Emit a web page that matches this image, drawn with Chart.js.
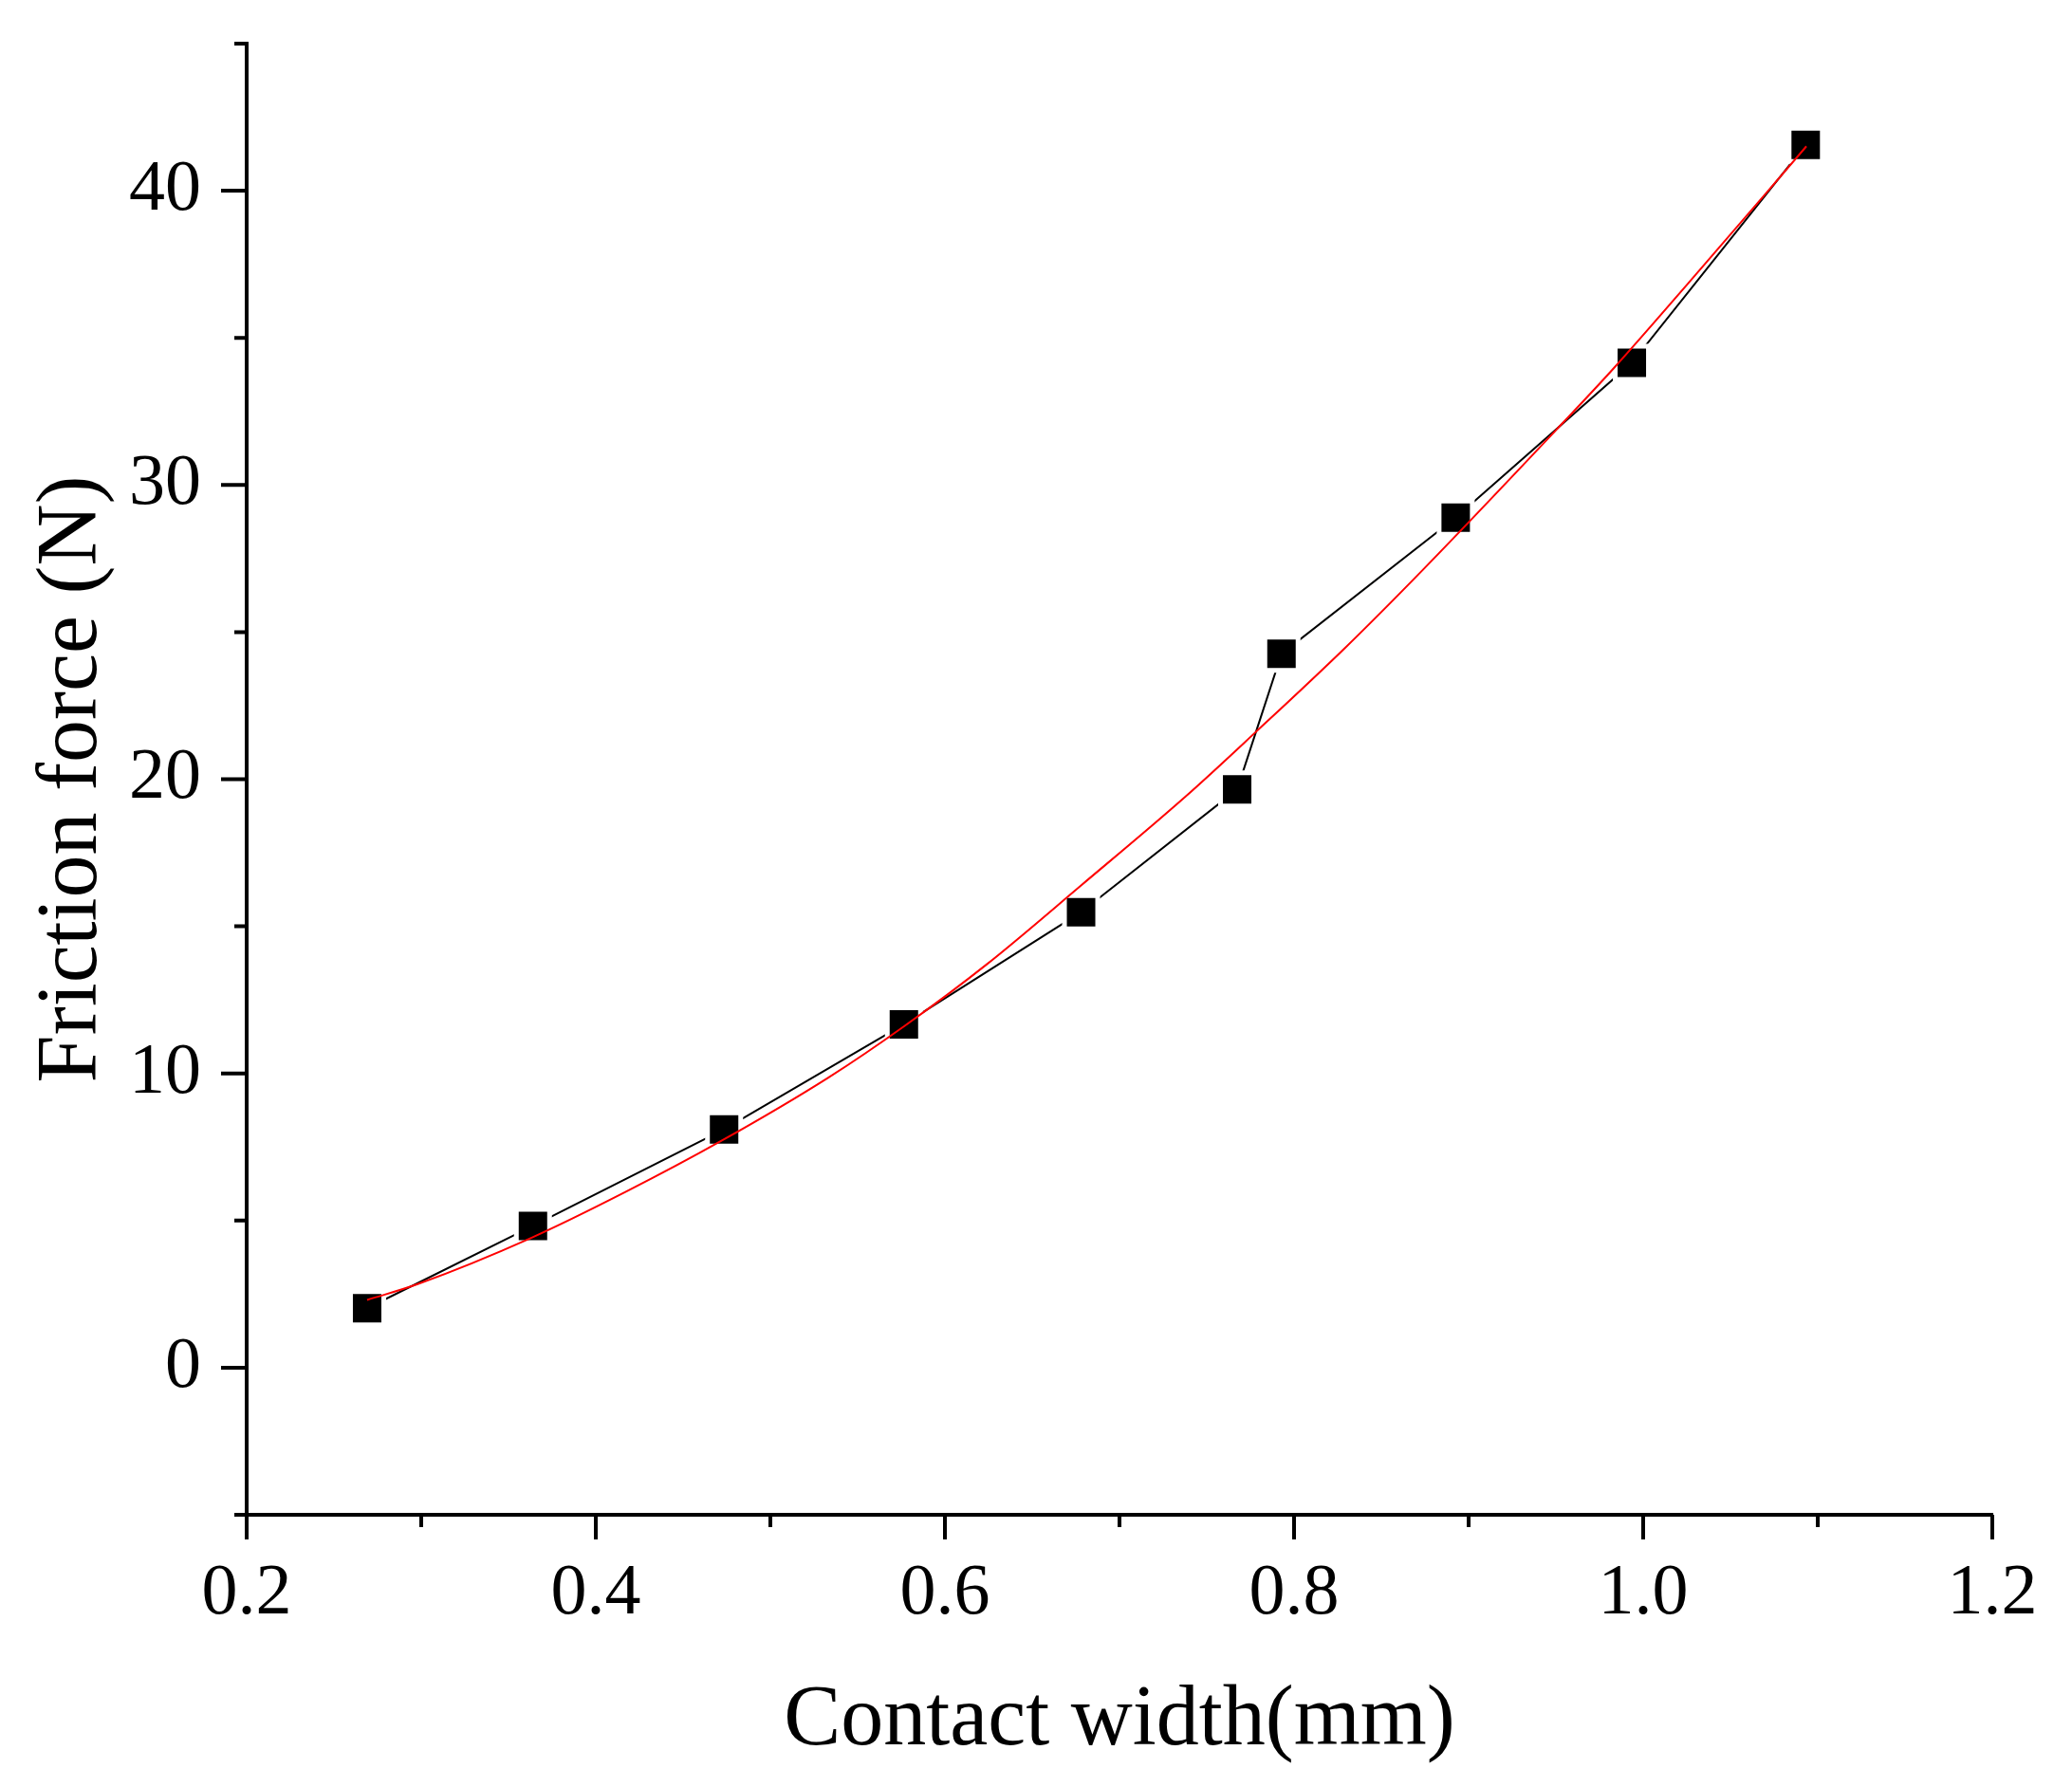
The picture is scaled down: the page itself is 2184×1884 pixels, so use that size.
<!DOCTYPE html>
<html>
<head>
<meta charset="utf-8">
<script src="https://cdn.jsdelivr.net/npm/chart.js@4/dist/chart.umd.min.js"></script>
<style>
  html, body { margin: 0; padding: 0; background: #fff; }
  #wrap { width: 2184px; height: 1884px; }
</style>
</head>
<body>
<div id="wrap"><canvas id="chart" width="2184" height="1884"></canvas></div>
<script>
// measured points (contact width in mm, friction force in N)
const contactWidth = [0.269, 0.364, 0.4735, 0.5765, 0.678, 0.7674, 0.7928, 0.8926, 0.9935, 1.0931];
const frictionForce = [2.02, 4.82, 8.10, 11.67, 15.48, 19.65, 24.26, 28.89, 34.15, 41.56];

// red fitted curve
const fitX = [0.269, 0.298, 0.363, 0.417, 0.472, 0.533, 0.577, 0.624, 0.678, 0.738, 0.778, 0.829, 0.874, 0.950, 0.983, 1.025, 1.0935];
const fitY = [2.30, 2.84, 4.41, 5.97, 7.71, 9.85, 11.62, 13.71, 16.39, 19.42, 21.60, 24.45, 27.13, 31.86, 33.96, 36.80, 41.51];

// axis ticks
const xMajorTicks = [0.2, 0.4, 0.6, 0.8, 1.0, 1.2];
const xTickLabels = ["0.2", "0.4", "0.6", "0.8", "1.0", "1.2"];
const xMinorTicks = [0.3, 0.5, 0.7, 0.9, 1.1];
const yMajorTicks = [0, 10, 20, 30, 40];
const yTickLabels = ["0", "10", "20", "30", "40"];
const yMinorTicks = [-5, 5, 15, 25, 35, 45];

const serif = "'Times New Roman', 'Liberation Serif', serif";

// Origin-style outward ticks, long for major and short for minor
const tickMarks = {
  id: "tickMarks",
  afterDraw(chart) {
    const ctx = chart.ctx;
    const xs = chart.scales.x;
    const ys = chart.scales.y;
    const area = chart.chartArea;
    ctx.save();
    ctx.strokeStyle = "#000";
    ctx.lineWidth = 4;
    ctx.beginPath();
    xMajorTicks.forEach((v) => {
      const px = xs.getPixelForValue(v);
      ctx.moveTo(px, area.bottom);
      ctx.lineTo(px, area.bottom + 26);
    });
    xMinorTicks.forEach((v) => {
      const px = xs.getPixelForValue(v);
      ctx.moveTo(px, area.bottom);
      ctx.lineTo(px, area.bottom + 13);
    });
    yMajorTicks.forEach((v) => {
      const py = ys.getPixelForValue(v);
      ctx.moveTo(area.left, py);
      ctx.lineTo(area.left - 27, py);
    });
    yMinorTicks.forEach((v) => {
      const py = ys.getPixelForValue(v);
      ctx.moveTo(area.left, py);
      ctx.lineTo(area.left - 13, py);
    });
    ctx.stroke();
    ctx.restore();
  },
};

new Chart(document.getElementById("chart"), {
  type: "line",
  data: {
    datasets: [
      {
        label: "Fit",
        data: fitX.map((x, i) => ({ x: x, y: fitY[i] })),
        borderColor: "#ff0000",
        borderWidth: 2,
        pointRadius: 0,
        cubicInterpolationMode: "monotone",
        fill: false,
        order: 0,
      },
      {
        label: "Friction force",
        data: contactWidth.map((x, i) => ({ x: x, y: frictionForce[i] })),
        borderColor: "#000",
        borderWidth: 2,
        pointStyle: "rect",
        pointRadius: 24.75,
        pointBackgroundColor: "#000",
        pointBorderColor: "#fff",
        pointBorderWidth: 5,
        tension: 0,
        fill: false,
        order: 1,
      },
    ],
  },
  options: {
    responsive: false,
    devicePixelRatio: 1,
    animation: false,
    events: [],
    layout: { padding: { left: 0, top: 46, right: 84, bottom: 0 } },
    plugins: {
      legend: { display: false },
      tooltip: { enabled: false },
    },
    scales: {
      x: {
        type: "linear",
        min: 0.2,
        max: 1.2,
        afterBuildTicks: (s) => {
          s.ticks = xMajorTicks.map((v) => ({ value: v }));
        },
        afterFit: (s) => {
          s.height = 287;
          s.paddingLeft = 0;
          s.paddingRight = 0;
        },
        grid: { display: false, drawTicks: false },
        border: { display: true, color: "#000", width: 4 },
        ticks: {
          color: "#000",
          padding: 38,
          autoSkip: false,
          maxRotation: 0,
          font: { family: serif, size: 76 },
          callback: (v, i) => xTickLabels[i],
        },
        title: {
          display: true,
          text: "Contact width(mm)",
          color: "#000",
          font: { family: serif, size: 90 },
          padding: { top: 0, bottom: 15 },
        },
      },
      y: {
        type: "linear",
        min: -5,
        max: 45,
        afterBuildTicks: (s) => {
          s.ticks = yMajorTicks.map((v) => ({ value: v }));
        },
        afterFit: (s) => {
          s.width = 260;
          s.paddingTop = 0;
          s.paddingBottom = 0;
        },
        grid: { display: false, drawTicks: false },
        border: { display: true, color: "#000", width: 4 },
        ticks: {
          color: "#000",
          padding: 48,
          autoSkip: false,
          font: { family: serif, size: 76 },
          callback: (v, i) => yTickLabels[i],
        },
        title: {
          display: true,
          text: "Friction force (N)",
          color: "#000",
          font: { family: serif, size: 90 },
          padding: { top: 23, bottom: 0 },
        },
      },
    },
  },
  plugins: [tickMarks],
});
</script>
</body>
</html>
